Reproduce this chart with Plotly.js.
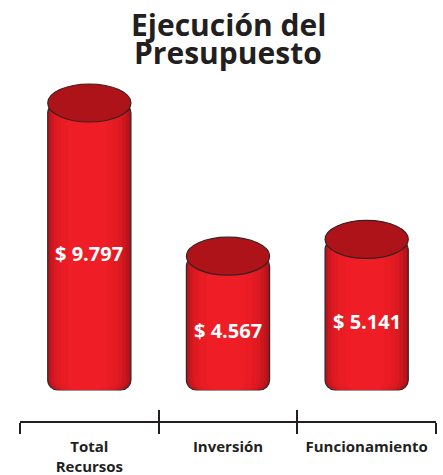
<!DOCTYPE html>
<html>
<head>
<meta charset="utf-8">
<script src="https://cdn.plot.ly/plotly-3.0.1.min.js"></script>
<style>
html,body{margin:0;padding:0;background:#fff;}
#chart{width:443px;height:475px;}
</style>
</head>
<body>
<div id="chart"></div>
<script>
// ---- data ----
var categories = ['Total<br>Recursos', 'Inversión', 'Funcionamiento'];
var values = [9797, 4567, 5141];
var titleLines = ['Ejecución del', 'Presupuesto'];

// ---- style ----
var FONT = '"Open Sans", "DejaVu Sans", sans-serif';
var barW = 0.6;          // bar width in category units
var pxW = 84;            // approx pixel width of a bar (for shading bands)
var u = barW / pxW;
// shading bands: [left inset px, right inset px, colour]
var bands = [
  [0, 0, '#a9121a'],
  [1, 2, '#bb141c'],
  [3, 5, '#cc171f'],
  [6, 9, '#d91a22'],
  [9, 13, '#e21b23'],
  [13, 18, '#e91c24'],
  [20, 24, '#ef1d25']
];

var traces = bands.map(function (b, i) {
  return {
    type: 'bar',
    x: categories,
    y: values.map(function (v) { return -v; }),
    base: values,
    offset: -barW / 2 + b[0] * u,
    width: barW - (b[0] + b[1]) * u,
    marker: {
      color: b[2],
      cornerradius: 10,
      line: { width: i === 0 ? 1.2 : 0, color: '#2a2a2a' }
    },
    hoverinfo: 'skip',
    showlegend: false
  };
});
// invisible helper trace for the inner tick axis
traces.push({
  type: 'scatter', mode: 'markers', x: categories, y: values,
  xaxis: 'x2', marker: { opacity: 0 }, hoverinfo: 'skip', showlegend: false
});

var shapes = values.map(function (v, i) {
  return {
    type: 'circle', xref: 'x', yref: 'y',
    x0: i - barW / 2, x1: i + barW / 2,
    ysizemode: 'pixel', yanchor: v, y0: -19, y1: 19,
    fillcolor: '#ae1319',
    line: { color: '#3a2020', width: 1.2 },
    layer: 'above'
  };
});

var annotations = values.map(function (v, i) {
  return {
    x: categories[i], y: v / 2, xref: 'x', yref: 'y',
    text: '$ ' + (v / 1000).toFixed(3),
    showarrow: false, yshift: -7,
    font: { family: FONT, size: 20, color: '#ffffff', weight: 'bold' }
  };
});
annotations.push({
  xref: 'paper', yref: 'paper', x: 0.5, y: 1.164, xanchor: 'center', yanchor: 'middle',
  text: '<b>' + titleLines[0] + '</b>', showarrow: false,
  font: { family: FONT, size: 30, color: '#231f20' }
});
annotations.push({
  xref: 'paper', yref: 'paper', x: 0.5, y: 1.0806, xanchor: 'center', yanchor: 'middle',
  text: '<b>' + titleLines[1] + '</b>', showarrow: false,
  font: { family: FONT, size: 30, color: '#231f20' }
});

var layout = {
  width: 443, height: 475,
  margin: { l: 20, r: 7, t: 80, b: 54 },
  paper_bgcolor: '#ffffff', plot_bgcolor: '#ffffff',
  barmode: 'overlay',
  xaxis: {
    type: 'category', range: [-0.5, 2.5],
    tickson: 'boundaries', ticks: 'outside', ticklen: 11, tickwidth: 2, tickcolor: '#231f20',
    showline: true, linewidth: 2, linecolor: '#231f20', showgrid: false, zeroline: false,
    tickfont: { family: FONT, size: 15, color: '#231f20', weight: 'bold' },
    ticklabelstandoff: 11
  },
  xaxis2: {
    type: 'category', overlaying: 'x', anchor: 'y', range: [-0.5, 2.5],
    tickson: 'boundaries', ticks: 'inside', ticklen: 11, tickwidth: 2, tickcolor: '#231f20',
    showticklabels: false, showline: false, showgrid: false, zeroline: false
  },
  yaxis: { range: [-1058, 10582], visible: false, showgrid: false, zeroline: false },
  shapes: shapes,
  annotations: annotations,
  hovermode: false,
  showlegend: false
};

Plotly.newPlot('chart', traces, layout, { displayModeBar: false, staticPlot: true });
</script>
</body>
</html>
